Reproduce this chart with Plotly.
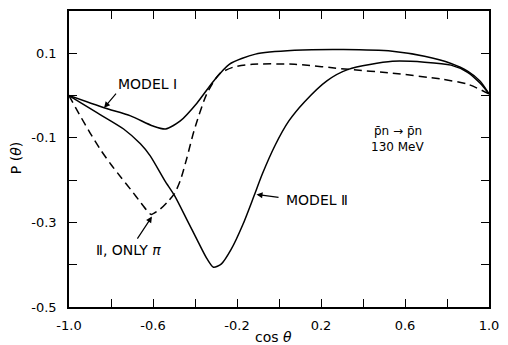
import plotly.graph_objects as go

# Model I (solid, upper curve)
model1_cos = [-1.0, -0.833, -0.707, -0.600, -0.540, -0.470, -0.391, -0.312, -0.237, -0.112, 0.074, 0.307,
              0.540, 0.693, 0.819, 0.898, 0.958, 1.0]
model1_p = [0.0, -0.029, -0.048, -0.072, -0.079, -0.060, -0.018, 0.034, 0.074, 0.098, 0.107, 0.109,
            0.105, 0.093, 0.076, 0.058, 0.034, 0.004]

# Model II (solid, deep minimum)
model2_cos = [-1.0, -0.865, -0.740, -0.660, -0.614, -0.544, -0.498, -0.437, -0.391, -0.344, -0.312,
              -0.274, -0.228, -0.172, -0.121, -0.079, -0.019, 0.047, 0.121, 0.228, 0.330, 0.540,
              0.693, 0.819, 0.898, 0.958, 1.0]
model2_p = [0.0, -0.041, -0.079, -0.114, -0.142, -0.201, -0.236, -0.295, -0.340, -0.385, -0.406,
            -0.398, -0.364, -0.305, -0.240, -0.185, -0.118, -0.060, -0.015, 0.035, 0.062, 0.081,
            0.079, 0.072, 0.055, 0.029, 0.004]

# Model II, only pi exchange (dashed)
only_pi_cos = [-1.0, -0.95, -0.90, -0.85, -0.80, -0.75, -0.70, -0.66, -0.63, -0.609, -0.567, -0.530,
               -0.498, -0.470, -0.440, -0.405, -0.344, -0.284, -0.219, -0.126, 0.074, 0.330, 0.540,
               0.772, 0.898, 1.0]
only_pi_p = [0.0, -0.045, -0.088, -0.128, -0.163, -0.195, -0.226, -0.252, -0.271, -0.281, -0.269, -0.251,
             -0.232, -0.201, -0.150, -0.084, 0.004, 0.051, 0.067, 0.074, 0.074, 0.062, 0.053,
             0.039, 0.027, 0.004]

x_tickvals = [-1.0, -0.8, -0.6, -0.4, -0.2, 0.0, 0.2, 0.4, 0.6, 0.8, 1.0]
x_ticktext = ["-1.0", "", "-0.6", "", "-0.2", "", "0.2", "", "0.6", "", "1.0"]
y_tickvals = [0.1, 0.0, -0.1, -0.2, -0.3, -0.4, -0.5]
y_ticktext = ["0.1", "", "-0.1", "", "-0.3", "", "-0.5"]

FONT = "DejaVu Sans"
fig = go.Figure()
line_common = dict(color="black", width=1.5, shape="spline", smoothing=0.7)
fig.add_trace(go.Scatter(x=model1_cos, y=model1_p, mode="lines", line=line_common, name="Model I"))
fig.add_trace(go.Scatter(x=model2_cos, y=model2_p, mode="lines", line=line_common, name="Model II"))
fig.add_trace(go.Scatter(x=only_pi_cos, y=only_pi_p, mode="lines",
                         line=dict(line_common, dash="8px,5px"), name="II, only pi"))

axis_common = dict(showline=True, linecolor="black", linewidth=1.5, mirror="ticks", ticks="inside",
                   ticklen=8, tickwidth=1.2, tickcolor="black", showgrid=False, zeroline=False,
                   tickfont=dict(family=FONT, size=13, color="black"))
fig.update_xaxes(range=[-1.0, 1.0], tickvals=x_tickvals, ticktext=x_ticktext, ticklabelstandoff=6, **axis_common)
fig.update_yaxes(range=[-0.5, 0.2], tickvals=y_tickvals, ticktext=y_ticktext, ticklabelstandoff=8, **axis_common)

txt = dict(family=FONT, size=14, color="black")
txt_small = dict(family=FONT, size=12, color="black")
ann = []
# text labels
ann.append(dict(x=-0.628, y=0.027, text="MODEL Ⅰ", showarrow=False, font=txt))
ann.append(dict(x=0.180, y=-0.246, text="MODEL Ⅱ", showarrow=False, font=txt))
ann.append(dict(x=-0.716, y=-0.366, text="Ⅱ, ONLY <i>π</i>", showarrow=False, font=txt))
ann.append(dict(x=0.565, y=-0.083, text="p̄n → p̄n", showarrow=False, font=txt_small))
ann.append(dict(x=0.565, y=-0.121, text="130 MeV", showarrow=False, font=txt_small))
# arrows
arrow = dict(text="", showarrow=True, arrowhead=2, arrowsize=1, arrowwidth=1.2, arrowcolor="black",
             axref="x", ayref="y")
ann.append(dict(arrow, x=-0.833, y=-0.029, ax=-0.77, ay=0.008))
ann.append(dict(arrow, x=-0.107, y=-0.234, ax=0.005, ay=-0.241))
ann.append(dict(arrow, x=-0.605, y=-0.286, ax=-0.679, ay=-0.342))
# axis titles
ann.append(dict(xref="paper", yref="paper", x=-0.126, y=0.503, xanchor="center", yanchor="middle",
                text="P (<i>θ</i>)", textangle=-90, showarrow=False, font=txt))
ann.append(dict(xref="paper", yref="paper", x=0.487, y=-0.10, xanchor="center", yanchor="middle",
                text="cos <i>θ</i>", showarrow=False, font=txt))

fig.update_layout(width=508, height=345, margin=dict(l=69, r=9, t=9, b=38),
                  paper_bgcolor="white", plot_bgcolor="white", showlegend=False, annotations=ann)
fig.write_html("out.html")
